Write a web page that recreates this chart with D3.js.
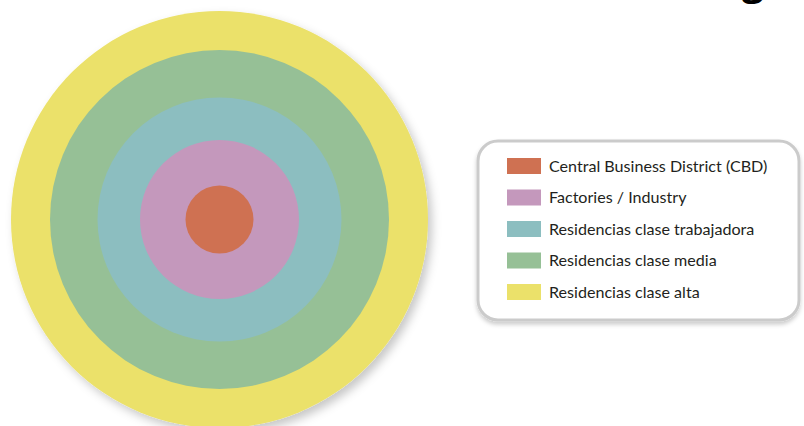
<!DOCTYPE html>
<html>
<head>
<meta charset="utf-8">
<script src="https://cdn.jsdelivr.net/npm/d3@7"></script>
<style>
  body { margin: 0; background: #fff; }
  svg { display: block; }
</style>
</head>
<body>
<div id="grafica"></div>
<script>
// zones from the centre outwards
var zones = [
  "Central Business District (CBD)",
  "Factories / Industry",
  "Residencias clase trabajadora",
  "Residencias clase media",
  "Residencias clase alta"
];
// outer radius of each zone (relative units)
var zoneRadius = [34, 79.5, 122, 169.5, 208.5];
var zoneColors = ["#cf7152", "#c498bc", "#8cbec0", "#96c096", "#ebe16a"];
var titleText = "Modelo de zonas concéntricas, E. W. Burgess";

var width = 804, height = 426;

var svg = d3.select("#grafica")
  .append("svg")
  .attr("width", width)
  .attr("height", height);

var defs = svg.append("defs");
var shadow = defs.append("filter").attr("id", "shadow")
  .attr("x", "-20%").attr("y", "-20%").attr("width", "140%").attr("height", "140%");
shadow.append("feDropShadow")
  .attr("dx", 4).attr("dy", 5).attr("stdDeviation", 5)
  .attr("flood-color", "#000").attr("flood-opacity", 0.22);

var boxShadow = defs.append("filter").attr("id", "boxShadow")
  .attr("x", "-10%").attr("y", "-10%").attr("width", "120%").attr("height", "130%");
boxShadow.append("feDropShadow")
  .attr("dx", 0).attr("dy", 3).attr("stdDeviation", 2)
  .attr("flood-color", "#000").attr("flood-opacity", 0.2);

// ---- rings ----
var r = d3.scaleLinear().domain([0, d3.max(zoneRadius)]).range([0, 208.5]);
var cx = 219.5, cy = 219.5;

svg.append("g")
  .attr("transform", "translate(" + cx + "," + cy + ")")
  .selectAll("circle")
  .data(zones.map(function (d, i) { return { name: d, r: zoneRadius[i], color: zoneColors[i] }; }).reverse())
  .enter()
  .append("circle")
  .attr("r", function (d) { return r(d.r); })
  .style("fill", function (d) { return d.color; })
  .attr("filter", function (d, i) { return i === 0 ? "url(#shadow)" : null; });

// ---- legend ----
var legend = svg.append("g");
legend.append("rect")
  .attr("x", 478).attr("y", 141)
  .attr("width", 321).attr("height", 179)
  .attr("rx", 20).attr("ry", 20)
  .style("fill", "#fff")
  .style("stroke", "#cbcbcb")
  .style("stroke-width", 3)
  .attr("filter", "url(#boxShadow)");

var ly = d3.scalePoint().domain(zones).range([166, 292]);

legend.selectAll("rect.sw")
  .data(zones)
  .enter()
  .append("rect")
  .attr("class", "sw")
  .attr("x", 507)
  .attr("y", function (d) { return ly(d) - 8; })
  .attr("width", 34)
  .attr("height", 16)
  .style("fill", function (d, i) { return zoneColors[i]; });

legend.selectAll("text")
  .data(zones)
  .enter()
  .append("text")
  .attr("x", 549)
  .attr("y", function (d) { return ly(d); })
  .attr("dy", "0.35em")
  .style("font-family", "Lato, 'Open Sans', sans-serif")
  .style("font-size", "16.1px")
  .style("fill", "#231f20")
  .text(function (d) { return d; });

// ---- title (only its bottom edge is visible) ----
var title = svg.append("text")
  .attr("y", -5)
  .style("dominant-baseline", "alphabetic")
  .style("font-family", "'Open Sans', sans-serif")
  .style("font-weight", "bold")
  .style("font-size", "28px")
  .style("fill", "#000")
  .text(titleText);
var node = title.node();
var iComma = titleText.indexOf(","), iG = titleText.lastIndexOf("g");
var dist = node.getSubStringLength(0, iG) - node.getSubStringLength(0, iComma);
var fs = 28 * 192 / dist;
title.style("font-size", fs + "px");
var off = node.getSubStringLength(0, iComma);
title.attr("x", 550 - off);
</script>
</body>
</html>
